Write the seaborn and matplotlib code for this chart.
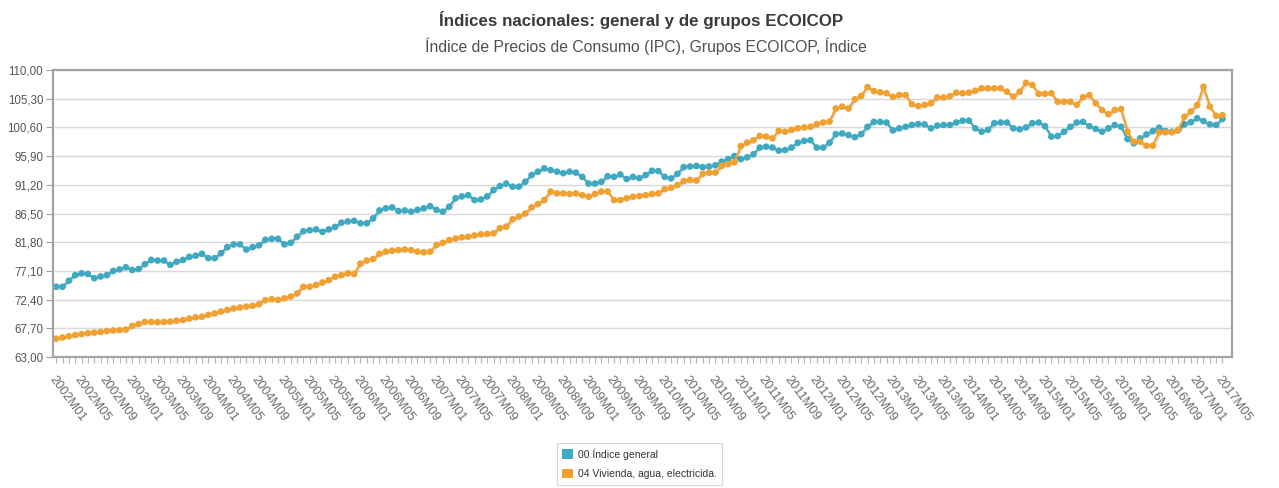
import numpy as np
import pandas as pd
import matplotlib
matplotlib.use("Agg")
import matplotlib.pyplot as plt
import matplotlib.patheffects as pe
from matplotlib.patches import Patch
import seaborn as sns

# periods 2002M01 .. 2017M05
periodos = [f"{a}M{m:02d}" for a in range(2002, 2018) for m in range(1, 13)][:185]

general = [
    74.5, 74.5, 75.5, 76.4, 76.7, 76.6, 75.9, 76.2, 76.4, 77.1, 77.35, 77.7,
    77.25, 77.4, 78.2, 78.9, 78.8, 78.8, 78.1, 78.6, 78.9, 79.4, 79.6, 79.9,
    79.2, 79.2, 80.0, 81.0, 81.45, 81.45, 80.6, 81.0, 81.3, 82.2, 82.35, 82.35,
    81.45, 81.7, 82.7, 83.6, 83.75, 83.9, 83.5, 83.9, 84.3, 85.0, 85.2, 85.3,
    84.9, 84.9, 85.7, 87.0, 87.35, 87.5, 86.9, 87.0, 86.8, 87.1, 87.35, 87.7,
    87.1, 86.8, 87.6, 89.0, 89.3, 89.5, 88.7, 88.8, 89.3, 90.35, 91.0, 91.4,
    90.9, 90.9, 91.7, 92.8, 93.35, 93.9, 93.6, 93.35, 93.1, 93.35, 93.2, 92.5,
    91.4, 91.4, 91.7, 92.6, 92.5, 92.9, 92.15, 92.5, 92.3, 92.8, 93.5, 93.45,
    92.5, 92.25, 93.0, 94.1, 94.2, 94.3, 94.1, 94.2, 94.4, 95.0, 95.4, 95.9,
    95.4, 95.7, 96.2, 97.3, 97.45, 97.3, 96.8, 96.9, 97.3, 98.1, 98.4, 98.5,
    97.3, 97.3, 98.1, 99.5, 99.6, 99.35, 99.0, 99.5, 100.7, 101.5, 101.5, 101.4,
    100.1, 100.45, 100.7, 101.0, 101.15, 101.1, 100.45, 100.9, 101.0, 101.0, 101.4, 101.7,
    101.7, 100.45, 99.9, 100.2, 101.3, 101.4, 101.4, 100.45, 100.3, 100.6, 101.3, 101.4,
    100.8, 99.1, 99.2, 99.9, 100.7, 101.4, 101.5, 100.8, 100.35, 99.9, 100.45, 101.0,
    100.7, 98.7, 98.0, 98.8, 99.45, 100.0, 100.55, 100.0, 99.9, 100.15, 101.1, 101.45,
    102.1, 101.65, 101.1, 101.0, 102.0,
]

vivienda = [
    66.0, 66.2, 66.4, 66.6, 66.75, 66.9, 67.0, 67.1, 67.25, 67.35, 67.4, 67.5,
    68.1, 68.4, 68.75, 68.75, 68.7, 68.75, 68.8, 68.95, 69.05, 69.3, 69.5, 69.6,
    69.9, 70.15, 70.45, 70.7, 70.95, 71.1, 71.25, 71.4, 71.65, 72.3, 72.45, 72.35,
    72.6, 72.9, 73.4, 74.5, 74.5, 74.8, 75.2, 75.6, 76.15, 76.4, 76.7, 76.6,
    78.3, 78.8, 79.05, 79.9, 80.25, 80.4, 80.5, 80.6, 80.5, 80.25, 80.15, 80.25,
    81.35, 81.7, 82.15, 82.4, 82.6, 82.7, 82.9, 83.1, 83.15, 83.25, 84.1, 84.35,
    85.55, 86.0, 86.5, 87.5, 88.05, 88.7, 90.1, 89.8, 89.8, 89.7, 89.8, 89.5,
    89.25, 89.7, 90.1, 90.1, 88.7, 88.7, 89.0, 89.25, 89.35, 89.5, 89.7, 89.8,
    90.5, 90.7, 91.15, 91.8, 92.0, 91.9, 93.0, 93.2, 93.2, 94.3, 94.6, 94.9,
    97.55, 98.1, 98.5, 99.2, 99.1, 98.8, 100.05, 99.9, 100.2, 100.45, 100.6, 100.7,
    101.15, 101.4, 101.55, 103.7, 104.0, 103.7, 105.2, 105.75, 107.2, 106.55, 106.35, 106.2,
    105.6, 105.9, 105.9, 104.4, 104.1, 104.3, 104.55, 105.5, 105.5, 105.7, 106.3, 106.2,
    106.3, 106.6, 107.0, 107.0, 107.0, 107.0, 106.45, 105.65, 106.45, 107.9, 107.55, 106.1,
    106.1, 106.2, 104.8, 104.8, 104.8, 104.3, 105.55, 105.9, 104.55, 103.45, 102.75, 103.45,
    103.6, 99.9, 98.25, 98.25, 97.6, 97.6, 99.8, 99.8, 99.8, 100.15, 102.35, 103.2,
    104.25, 107.25, 104.0, 102.5, 102.6,
]

series = ["00 Índice general", "04 Vivienda, agua, electricida."]
colores = ["#3ea9c1", "#f0a130"]
yticks = [63.0, 67.7, 72.4, 77.1, 81.8, 86.5, 91.2, 95.9, 100.6, 105.3, 110.0]

titulo = "Índices nacionales: general y de grupos ECOICOP"
subtitulo = "Índice de Precios de Consumo (IPC), Grupos ECOICOP, Índice"

df = pd.concat([
    pd.DataFrame({"pos": np.arange(len(periodos)), "periodo": periodos,
                  "valor": general, "serie": series[0]}),
    pd.DataFrame({"pos": np.arange(len(periodos)), "periodo": periodos,
                  "valor": vivienda, "serie": series[1]}),
])

sns.set_style("white")
plt.rcParams["font.family"] = ["Liberation Sans", "DejaVu Sans"]

W, H = 1279, 488
fig = plt.figure(figsize=(W / 100, H / 100), dpi=100)
ax = fig.add_axes([53 / W, 1 - 357 / H, (1232 - 53) / W, (357 - 70) / H])

sns.lineplot(data=df, x="pos", y="valor", hue="serie", hue_order=series,
             palette=colores, marker="o", markersize=4.8, markeredgewidth=0,
             linewidth=1.6, estimator=None, legend=False, ax=ax)

for ln in ax.lines:
    ln.set_path_effects([pe.SimpleLineShadow(offset=(1, -1), alpha=0.12),
                         pe.Normal()])

ax.set_xlim(-0.5, 185.5)
ax.set_ylim(63, 110)
ax.set_yticks(yticks)
ax.set_yticklabels([f"{v:.2f}".replace(".", ",") for v in yticks])
ax.yaxis.grid(True, color="#d9d9d9", linewidth=1)
ax.xaxis.grid(False)

ax.set_xticks(np.arange(len(periodos)))
ax.set_xticklabels([p if i % 4 == 0 else "" for i, p in enumerate(periodos)],
                   rotation=-54, ha="left", va="top", rotation_mode="anchor")
ax.set_xlabel("")
ax.set_ylabel("")

ax.tick_params(axis="x", length=4, width=0.8, color="#b5b5b5",
               labelsize=9.2, labelcolor="#6a6a6a", pad=8, bottom=True)
ax.tick_params(axis="y", length=5, width=0.8, color="#a0a0a0",
               labelsize=8.3, labelcolor="#555555", pad=2, left=True)

for s in ax.spines.values():
    s.set_visible(True)
    s.set_color("#a3a3a3")
    s.set_linewidth(1.6)

fig.text(641 / W, 1 - 20 / H, titulo, ha="center", va="center",
         fontsize=12.2, fontweight="bold", color="#3a3a3a")
fig.text(646 / W, 1 - 46 / H, subtitulo, ha="center", va="center",
         fontsize=11.3, color="#505050")

handles = [Patch(facecolor=c, edgecolor="none") for c in colores]
leg = fig.legend(handles, series, loc="upper left",
                 bbox_to_anchor=(557 / W, 1 - 443 / H),
                 frameon=True, fancybox=False, fontsize=7.5,
                 handlelength=1.0, handleheight=1.0, handletextpad=0.5,
                 labelspacing=0.9, borderpad=0.5, borderaxespad=0)
leg.get_frame().set_edgecolor("#cccccc")
leg.get_frame().set_linewidth(0.8)
for t in leg.get_texts():
    t.set_color("#333333")

fig.savefig("out.png", dpi=100)
